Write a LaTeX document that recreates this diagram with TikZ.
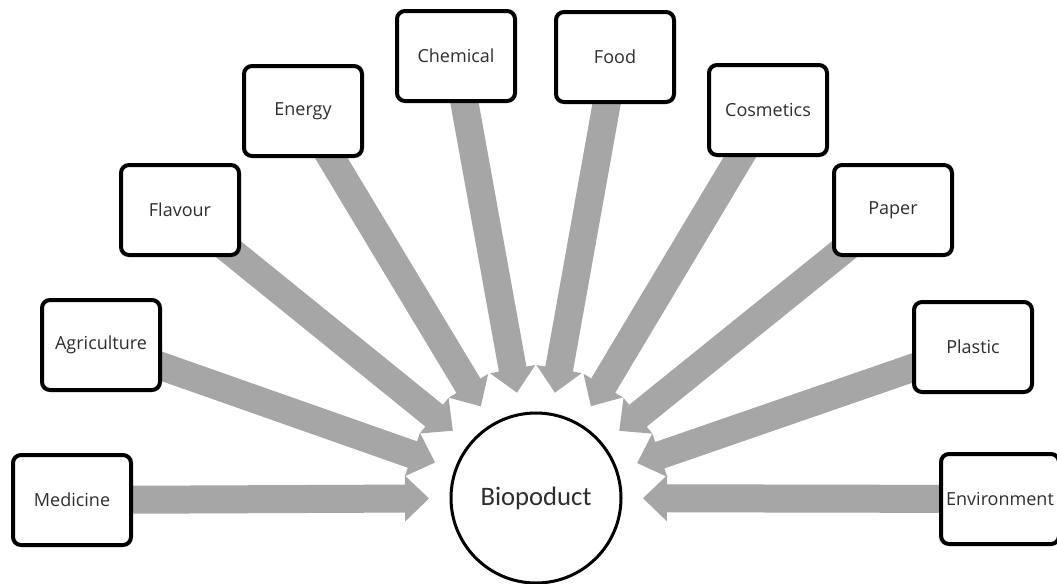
\documentclass[tikz,border=0pt]{standalone}
\usepackage{fontspec}
\setmainfont{Open Sans}
\newfontfamily\calib{Carlito}
\usetikzlibrary{calc}
\definecolor{arrowgray}{HTML}{A6A6A6}
\definecolor{txt}{HTML}{2E2E2E}
\pgfdeclarelayer{bg}
\pgfsetlayers{bg,main}
\newcommand\blockarrow[1]{%
  \fill[arrowgray] let \p1=(#1.center), \p2=(bio.center), \n1={atan2(\y1-\y2,\x1-\x2)} in
   ($(\p2)+(\n1:80.25pt)$)
   -- ($(\p2)+(\n1:98.25pt)+(\n1+90:17.25pt)$)
   -- ($(\p2)+(\n1:98.25pt)+(\n1+90:10.5pt)$)
   -- ($(\p1)+(\n1+90:10.5pt)$)
   -- ($(\p1)+(\n1-90:10.5pt)$)
   -- ($(\p2)+(\n1:98.25pt)+(\n1-90:10.5pt)$)
   -- ($(\p2)+(\n1:98.25pt)+(\n1-90:17.25pt)$)
   -- cycle;}
\begin{document}
\begin{tikzpicture}[x=0.75pt,y=-0.75pt,
  box/.style={draw=black, line width=3pt, rounded corners=6pt, fill=white,
    minimum width=88.5pt, minimum height=67.5pt, inner sep=0pt,
    font=\fontsize{13.5}{16}\selectfont, text=txt},
  hub/.style={circle, draw=black, line width=2.25pt, minimum size=127.5pt,
    fill=white, inner sep=0pt, font=\calib\fontsize{20}{24}\selectfont, text=txt}]
\useasboundingbox (0,0) rectangle (1057,583);

\node[hub] (bio) at (536,498) {Biopoduct};

\node[box] (med)  at (72,500)  {Medicine};
\node[box] (agr)  at (101,345) {Agriculture};
\node[box] (fla)  at (180,210) {Flavour};
\node[box] (ene)  at (303,111) {Energy};
\node[box] (che)  at (456,56)  {Chemical};
\node[box] (foo)  at (615,57)  {Food};
\node[box] (cos)  at (768,110) {Cosmetics};
\node[box] (pap)  at (893,210) {Paper};
\node[box] (pla)  at (973,347) {Plastic};
\node[box] (env)  at (1000,499) {Environment};

\begin{pgfonlayer}{bg}
\foreach \b in {med,agr,fla,ene,che,foo,cos,pap,pla,env}{\blockarrow{\b}}
\end{pgfonlayer}
\end{tikzpicture}
\end{document}
